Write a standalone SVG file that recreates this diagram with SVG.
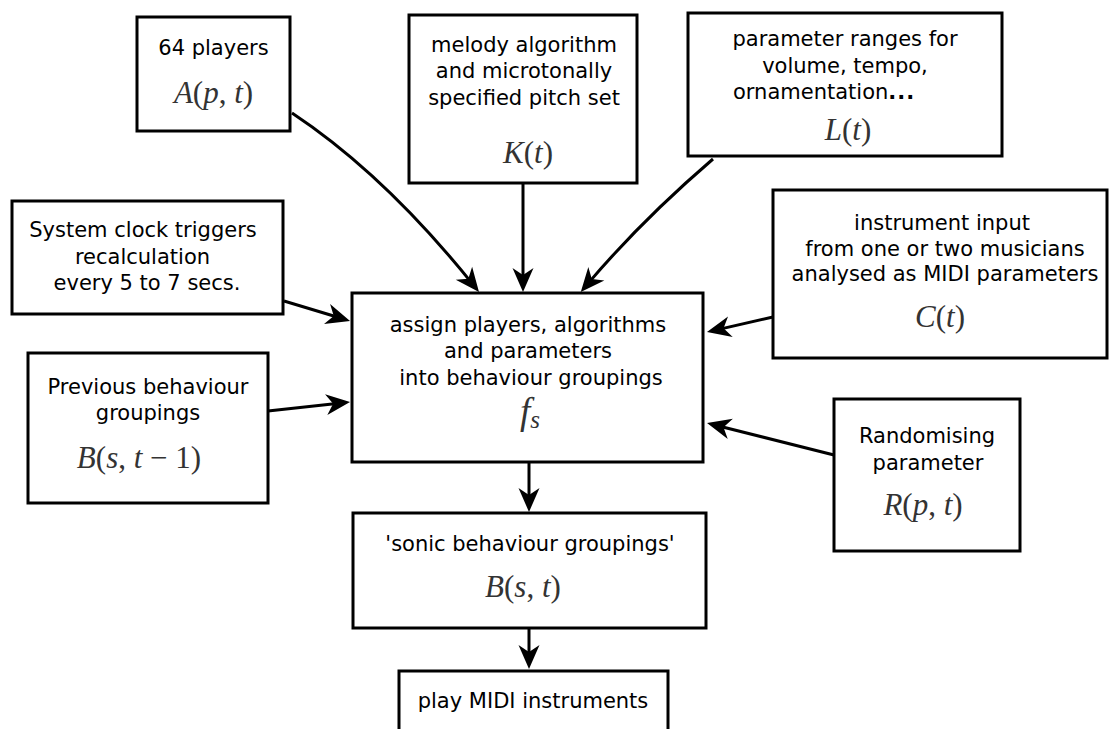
<svg xmlns="http://www.w3.org/2000/svg" width="1110" height="729" viewBox="0 0 1110 729">
  <style>
    .box { fill: #ffffff; stroke: #000000; stroke-width: 3; }
    .lbl { font-family: "DejaVu Sans", "Liberation Sans", sans-serif; font-size: 21px; fill: #000000; text-anchor: middle; }
    .math { font-family: "Liberation Serif", "DejaVu Serif", serif; font-size: 31px; fill: #333333; text-anchor: middle; }
    .it { font-style: italic; }
    .wire { fill: none; stroke: #000000; stroke-width: 3; marker-end: url(#head); }
  </style>
  <defs>
    <marker id="head" markerUnits="userSpaceOnUse" markerWidth="28" markerHeight="28" viewBox="-14 -14 28 28" refX="0" refY="0" orient="auto">
      <path d="M11,0 L-13,-10.5 L-6,0 L-13,10.5 Z" fill="#000000"/>
    </marker>
  </defs>
  <rect width="1110" height="729" fill="#ffffff"/>

  <g id="connectors">
    <path class="wire" d="M292,113 Q384,174 472.1,283.4"/>
    <path class="wire" d="M523,183 L523,281"/>
    <path class="wire" d="M713,159 Q642,220 587.9,283.6"/>
    <path class="wire" d="M284,301 L339.5,317.8"/>
    <path class="wire" d="M268,411 L339.1,403.2"/>
    <path class="wire" d="M773,317 L717.7,329.6"/>
    <path class="wire" d="M834,455 L717.7,425.7"/>
    <path class="wire" d="M529,462 L529,501"/>
    <path class="wire" d="M529,628 L529,658"/>
  </g>

  <g id="players">
    <rect class="box" x="137" y="17" width="153" height="114"/>
    <text class="lbl" x="213.5" y="55">64 players</text>
    <text class="math" x="213.5" y="103"><tspan class="it">A</tspan>(<tspan class="it">p</tspan>, <tspan class="it">t</tspan>)</text>
  </g>

  <g id="melody">
    <rect class="box" x="409" y="15" width="228" height="168"/>
    <text class="lbl" x="524" y="51.5">melody algorithm</text>
    <text class="lbl" x="524" y="78">and microtonally</text>
    <text class="lbl" x="524" y="104.5">specified pitch set</text>
    <text class="math" x="528" y="163"><tspan class="it">K</tspan>(<tspan class="it">t</tspan>)</text>
  </g>

  <g id="ranges">
    <rect class="box" x="688" y="13" width="314" height="143"/>
    <text class="lbl" x="845" y="46">parameter ranges for</text>
    <text class="lbl" x="845" y="72.7">volume, tempo,</text>
    <text class="lbl" x="733" y="99.3" style="text-anchor:start">ornamentation<tspan font-weight="bold" letter-spacing="1">...</tspan></text>
    <text class="math" x="848" y="140"><tspan class="it">L</tspan>(<tspan class="it">t</tspan>)</text>
  </g>

  <g id="clock">
    <rect class="box" x="12" y="201" width="271" height="113"/>
    <text class="lbl" x="143" y="237">System clock triggers</text>
    <text class="lbl" x="142.5" y="264">recalculation</text>
    <text class="lbl" x="147" y="290">every 5 to 7 secs.</text>
  </g>

  <g id="instrument">
    <rect class="box" x="773" y="190" width="334" height="168"/>
    <text class="lbl" x="942" y="230">instrument input</text>
    <text class="lbl" x="945" y="255.5">from one or two musicians</text>
    <text class="lbl" x="945" y="281">analysed as MIDI parameters</text>
    <text class="math" x="940" y="326.7"><tspan class="it">C</tspan>(<tspan class="it">t</tspan>)</text>
  </g>

  <g id="assign">
    <rect class="box" x="352" y="293" width="351" height="169"/>
    <text class="lbl" x="528" y="331.7">assign players, algorithms</text>
    <text class="lbl" x="528" y="358.3">and parameters</text>
    <text class="lbl" x="531" y="384.5">into behaviour groupings</text>
    <text class="math" x="530" y="424"><tspan class="it" font-size="37">f</tspan><tspan class="it" font-size="25" dy="4">s</tspan></text>
  </g>

  <g id="previous">
    <rect class="box" x="28" y="353" width="240" height="150"/>
    <text class="lbl" x="148" y="394">Previous behaviour</text>
    <text class="lbl" x="148" y="420">groupings</text>
    <text class="math" x="139" y="468"><tspan class="it">B</tspan>(<tspan class="it">s</tspan>, <tspan class="it">t</tspan> − 1)</text>
  </g>

  <g id="random">
    <rect class="box" x="834" y="399" width="186" height="152"/>
    <text class="lbl" x="927" y="443">Randomising</text>
    <text class="lbl" x="928" y="469.5">parameter</text>
    <text class="math" x="923" y="515"><tspan class="it">R</tspan>(<tspan class="it">p</tspan>, <tspan class="it">t</tspan>)</text>
  </g>

  <g id="sonic">
    <rect class="box" x="353" y="513" width="353" height="115"/>
    <text class="lbl" x="530" y="550.7">'sonic behaviour groupings'</text>
    <text class="math" x="523" y="596.7"><tspan class="it">B</tspan>(<tspan class="it">s</tspan>, <tspan class="it">t</tspan>)</text>
  </g>

  <g id="play">
    <rect class="box" x="399" y="671" width="269" height="80"/>
    <text class="lbl" x="533" y="708">play MIDI instruments</text>
  </g>
</svg>
